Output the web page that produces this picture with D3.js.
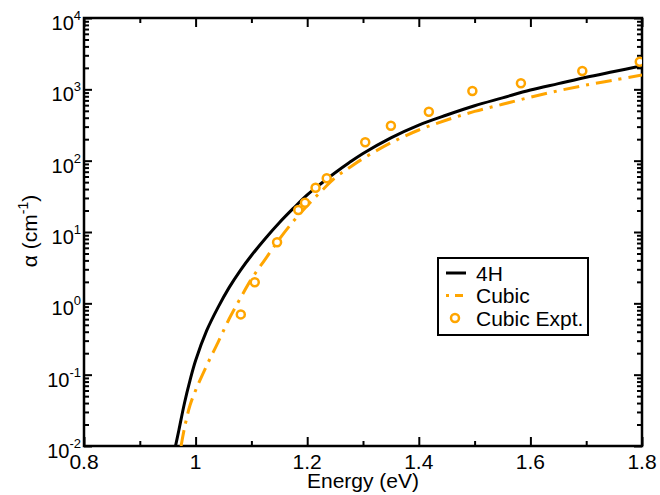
<!DOCTYPE html>
<html>
<head>
<meta charset="utf-8">
<script src="https://cdn.jsdelivr.net/npm/d3@7"></script>
<style>
  body { margin: 0; background: #fff; }
  svg { display: block; font-family: "Liberation Sans", Arial, sans-serif; }
</style>
</head>
<body>
<svg id="chart" width="660" height="495"></svg>
<script>
// energies (eV) and absorption (cm^-1)
const energy4H = [0.964, 0.97, 0.98, 0.99, 1.0, 1.02, 1.04, 1.06, 1.08, 1.10, 1.125, 1.15, 1.175, 1.20,
  1.225, 1.25, 1.275, 1.30, 1.35, 1.40, 1.45, 1.50, 1.55, 1.60, 1.65, 1.70, 1.75, 1.80];
const alpha4H = [0.010, 0.0166, 0.0398, 0.0832, 0.158, 0.417, 0.871, 1.66, 2.88, 4.68, 8.13, 13.5, 21.4, 33.1,
  47.9, 67.6, 93.3, 126, 209, 316, 437, 589, 759, 977, 1202, 1479, 1778, 2138];

const energyCubic = [0.974, 0.98, 0.99, 1.0, 1.02, 1.04, 1.06, 1.08, 1.10, 1.125, 1.15, 1.175, 1.20,
  1.225, 1.25, 1.275, 1.30, 1.35, 1.40, 1.45, 1.50, 1.55, 1.60, 1.65, 1.70, 1.75, 1.80];
const alphaCubic = [0.010, 0.0178, 0.0372, 0.0603, 0.135, 0.282, 0.603, 1.17, 2.19, 4.17, 7.94, 14.1, 23.4,
  37.2, 57.5, 79.4, 107, 178, 269, 372, 490, 617, 776, 955, 1148, 1349, 1585];

const energyExpt = [1.081, 1.106, 1.146, 1.184, 1.196, 1.215, 1.235, 1.304, 1.350, 1.418, 1.496, 1.583, 1.693, 1.796];
const alphaExpt = [0.70, 1.97, 7.2, 20.3, 25.7, 41.8, 56.6, 181, 309, 485, 948, 1216, 1807, 2438];

const xTicks = [0.8, 1, 1.2, 1.4, 1.6, 1.8];
const yExponents = [-2, -1, 0, 1, 2, 3, 4];

const width = 660, height = 495;
const margin = { top: 18, right: 18, bottom: 49, left: 84 };
const orange = "#FFA500";

const svg = d3.select("#chart");

const x = d3.scaleLinear().domain([0.8, 1.8]).range([margin.left, width - margin.right]);
const y = d3.scaleLog().domain([0.01, 10000]).range([height - margin.bottom, margin.top]);

const pw = width - margin.left - margin.right;
const ph = height - margin.top - margin.bottom;

svg.append("defs").append("clipPath").attr("id", "clip")
  .append("rect").attr("x", margin.left).attr("y", margin.top).attr("width", pw).attr("height", ph);

// minor tick values for the log axis
const yMinor = [];
for (let e = -2; e < 4; e++) {
  for (let m = 2; m <= 9; m++) yMinor.push(m * Math.pow(10, e));
}
const xMinor = [0.9, 1.1, 1.3, 1.5, 1.7];

const axisStyle = (g) => {
  g.select(".domain").remove();
  g.selectAll("line").attr("stroke", "#000").attr("stroke-width", 2);
};

// bottom / top
svg.append("g").attr("transform", `translate(0,${height - margin.bottom})`)
  .call(d3.axisTop(x).tickValues(xTicks).tickSize(9).tickFormat(""))
  .call(axisStyle);
svg.append("g").attr("transform", `translate(0,${height - margin.bottom})`)
  .call(d3.axisTop(x).tickValues(xMinor).tickSize(5).tickFormat(""))
  .call(axisStyle);
svg.append("g").attr("transform", `translate(0,${margin.top})`)
  .call(d3.axisBottom(x).tickValues(xTicks).tickSize(9).tickFormat(""))
  .call(axisStyle);
svg.append("g").attr("transform", `translate(0,${margin.top})`)
  .call(d3.axisBottom(x).tickValues(xMinor).tickSize(5).tickFormat(""))
  .call(axisStyle);

// left / right
const yMajor = yExponents.map((e) => Math.pow(10, e));
svg.append("g").attr("transform", `translate(${margin.left},0)`)
  .call(d3.axisRight(y).tickValues(yMajor).tickSize(8).tickFormat(""))
  .call(axisStyle);
svg.append("g").attr("transform", `translate(${margin.left},0)`)
  .call(d3.axisRight(y).tickValues(yMinor).tickSize(5).tickFormat(""))
  .call(axisStyle);
svg.append("g").attr("transform", `translate(${width - margin.right},0)`)
  .call(d3.axisLeft(y).tickValues(yMajor).tickSize(8).tickFormat(""))
  .call(axisStyle);
svg.append("g").attr("transform", `translate(${width - margin.right},0)`)
  .call(d3.axisLeft(y).tickValues(yMinor).tickSize(5).tickFormat(""))
  .call(axisStyle);

// frame
svg.append("rect")
  .attr("x", margin.left).attr("y", margin.top).attr("width", pw).attr("height", ph)
  .attr("fill", "none").attr("stroke", "#000").attr("stroke-width", 2.5);

// tick labels
svg.append("g").selectAll("text").data(xTicks).join("text")
  .attr("x", (d) => x(d)).attr("y", height - margin.bottom + 23)
  .attr("text-anchor", "middle").attr("font-size", 21)
  .text((d) => d);

const yl = svg.append("g").selectAll("text").data(yExponents).join("text")
  .attr("x", margin.left - 3).attr("y", (d) => y(Math.pow(10, d)) + 12)
  .attr("text-anchor", "end").attr("font-size", 20);
yl.append("tspan").text("10");
yl.append("tspan").attr("dy", -10).attr("font-size", 13).text((d) => d);

// axis titles
svg.append("text").attr("x", x(1.3)).attr("y", height - 7)
  .attr("text-anchor", "middle").attr("font-size", 21).text("Energy (eV)");

const yt = svg.append("text")
  .attr("transform", `translate(37,231) rotate(-90)`)
  .attr("text-anchor", "middle").attr("font-size", 21);
yt.append("tspan").text("α (cm");
yt.append("tspan").attr("dy", -9).attr("font-size", 14).text("-1");
yt.append("tspan").attr("dy", 9).text(")");

// curves
const plot = svg.append("g").attr("clip-path", "url(#clip)");
const line = d3.line().x((d) => x(d[0])).y((d) => y(d[1])).curve(d3.curveCatmullRom);

plot.append("path")
  .datum(d3.zip(energyCubic, alphaCubic))
  .attr("d", line).attr("fill", "none")
  .attr("stroke", orange).attr("stroke-width", 3)
  .attr("stroke-dasharray", "16,7,3,7");

plot.append("path")
  .datum(d3.zip(energy4H, alpha4H))
  .attr("d", line).attr("fill", "none")
  .attr("stroke", "#000").attr("stroke-width", 3);

plot.append("g").selectAll("circle")
  .data(d3.zip(energyExpt, alphaExpt)).join("circle")
  .attr("cx", (d) => x(d[0])).attr("cy", (d) => y(d[1])).attr("r", 4)
  .attr("fill", "#fff").attr("stroke", orange).attr("stroke-width", 2.5);

// legend
const lg = svg.append("g");
lg.append("rect").attr("x", 438).attr("y", 258).attr("width", 150).attr("height", 77)
  .attr("fill", "#fff").attr("stroke", "#000").attr("stroke-width", 2);
const items = ["4H", "Cubic", "Cubic Expt."];
items.forEach((name, i) => {
  const cy = 273 + i * 22.5;
  if (i === 0) {
    lg.append("line").attr("x1", 446).attr("x2", 466).attr("y1", cy).attr("y2", cy)
      .attr("stroke", "#000").attr("stroke-width", 3);
  } else if (i === 1) {
    lg.append("line").attr("x1", 446).attr("x2", 466).attr("y1", cy).attr("y2", cy)
      .attr("stroke", orange).attr("stroke-width", 3).attr("stroke-dasharray", "3,6,8,10");
  } else {
    lg.append("circle").attr("cx", 455).attr("cy", cy).attr("r", 4)
      .attr("fill", "#fff").attr("stroke", orange).attr("stroke-width", 2.5);
  }
  lg.append("text").attr("x", 476).attr("y", cy + 7.5).attr("font-size", 21).text(name);
});
</script>
</body>
</html>
